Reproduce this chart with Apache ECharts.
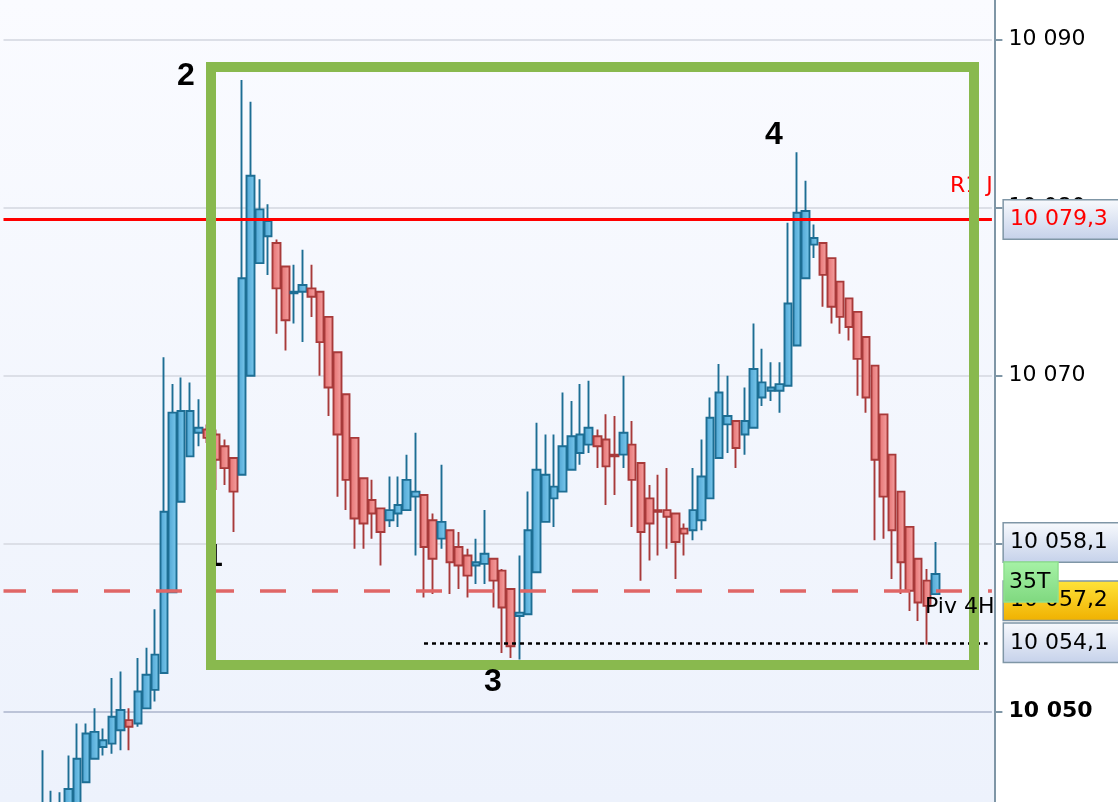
<!DOCTYPE html>
<html>
<head>
<meta charset="utf-8">
<script src="https://cdn.jsdelivr.net/npm/echarts@6/dist/echarts.min.js"></script>
<style>
  html, body { margin: 0; padding: 0; background: #fff; }
  #chart { width: 1118px; height: 802px; }
</style>
</head>
<body>
<div id="chart"></div>
<script>
// candle values, oldest first
var openP = [
  10043.0, 10042.8, 10043.0, 10043.5, 10044.0, 10045.8, 10047.2, 10047.9, 10048.1, 10048.9,
  10049.5, 10049.3, 10050.2, 10051.3, 10052.3, 10057.1, 10062.5, 10065.2, 10066.6, 10066.8,
  10066.5, 10065.8, 10065.1, 10064.1, 10070.0, 10076.7, 10078.3, 10077.9, 10076.5, 10074.9,
  10075.0, 10075.2, 10075.0, 10073.5, 10071.4, 10068.9, 10066.3, 10063.9, 10062.6, 10062.1,
  10061.4, 10061.8, 10062.0, 10062.8, 10062.9, 10061.4, 10060.3, 10060.8, 10059.8, 10059.3,
  10058.7, 10058.8, 10059.1, 10058.4, 10057.3, 10055.7, 10055.8, 10058.3, 10061.3, 10062.7,
  10063.1, 10064.4, 10065.4, 10065.9, 10066.4, 10066.2, 10065.3, 10065.3, 10065.9, 10064.8,
  10062.7, 10062.0, 10062.0, 10061.8, 10060.9, 10060.8, 10061.4, 10062.7, 10065.1, 10067.1,
  10067.3, 10066.5, 10066.9, 10068.7, 10069.1, 10069.1, 10069.4, 10071.8, 10075.8, 10077.8,
  10077.9, 10077.0, 10075.6, 10074.6, 10073.8, 10072.3, 10070.6, 10067.7, 10065.3, 10063.1,
  10061.0, 10059.1, 10057.8, 10057.0
];
var closeP = [
  10044.0, 10044.2, 10044.3, 10045.4, 10047.2, 10048.7, 10048.8, 10048.3, 10049.7, 10050.1,
  10049.1, 10051.2, 10052.2, 10053.4, 10061.9, 10067.8, 10067.9, 10067.9, 10066.9, 10066.3,
  10065.0, 10064.5, 10063.1, 10075.8, 10081.9, 10079.9, 10079.2, 10075.2, 10073.3, 10075.0,
  10075.4, 10074.7, 10072.0, 10069.3, 10066.5, 10063.8, 10061.5, 10061.2, 10061.8, 10060.7,
  10062.0, 10062.3, 10063.8, 10063.1, 10059.8, 10059.1, 10061.3, 10058.9, 10058.7, 10058.1,
  10058.9, 10059.4, 10057.8, 10056.2, 10053.9, 10055.9, 10060.8, 10064.4, 10064.1, 10063.4,
  10065.8, 10066.4, 10066.5, 10066.9, 10065.8, 10064.6, 10065.2, 10066.6, 10063.8, 10060.7,
  10061.2, 10061.9, 10061.6, 10060.1, 10060.6, 10062.0, 10064.0, 10067.5, 10069.0, 10067.6,
  10065.7, 10067.3, 10070.4, 10069.6, 10069.3, 10069.5, 10074.3, 10079.7, 10079.8, 10078.2,
  10076.0, 10074.1, 10073.5, 10072.9, 10071.0, 10068.7, 10065.0, 10062.8, 10060.8, 10058.9,
  10057.2, 10056.5, 10056.3, 10058.2
];
var lowP = [
  10042.5, 10042.0, 10042.5, 10043.0, 10043.8, 10045.8, 10047.2, 10047.4, 10047.5, 10047.7,
  10047.7, 10049.1, 10050.2, 10050.6, 10052.3, 10057.1, 10062.5, 10065.2, 10065.8, 10066.0,
  10063.2, 10063.5, 10060.7, 10064.1, 10070.0, 10076.7, 10076.0, 10072.5, 10071.5, 10073.1,
  10072.0, 10073.5, 10070.0, 10067.6, 10062.8, 10062.0, 10059.7, 10059.7, 10060.3, 10058.7,
  10061.0, 10061.0, 10062.0, 10059.3, 10056.8, 10057.0, 10059.7, 10057.0, 10057.3, 10056.8,
  10057.6, 10057.6, 10056.2, 10053.5, 10053.2, 10053.1, 10055.8, 10058.3, 10061.3, 10061.0,
  10063.1, 10064.4, 10064.7, 10065.4, 10064.5, 10062.3, 10062.9, 10064.5, 10061.0, 10057.8,
  10059.0, 10059.3, 10059.7, 10057.9, 10059.3, 10060.2, 10060.8, 10062.7, 10065.1, 10065.4,
  10064.5, 10065.3, 10066.9, 10068.2, 10068.5, 10067.8, 10069.4, 10071.8, 10075.8, 10077.0,
  10074.1, 10073.1, 10072.5, 10072.1, 10068.8, 10067.8, 10060.2, 10060.3, 10057.9, 10057.0,
  10056.0, 10055.4, 10054.0, 10057.0
];
var highP = [
  10047.7, 10045.3, 10045.2, 10047.4, 10049.3, 10049.3, 10050.2, 10049.0, 10052.0, 10052.4,
  10050.2, 10053.2, 10053.8, 10056.1, 10071.1, 10069.5, 10069.9, 10069.6, 10068.6, 10067.1,
  10066.8, 10066.2, 10065.1, 10087.6, 10086.3, 10081.7, 10080.2, 10078.1, 10076.5, 10076.6,
  10077.5, 10076.6, 10075.0, 10073.5, 10071.4, 10068.9, 10066.3, 10063.9, 10063.8, 10062.1,
  10064.0, 10064.0, 10065.3, 10066.6, 10062.9, 10061.8, 10064.7, 10060.8, 10060.7, 10059.7,
  10060.3, 10062.0, 10059.1, 10058.5, 10057.3, 10059.3, 10063.1, 10067.2, 10066.5, 10066.5,
  10069.0, 10068.5, 10069.5, 10069.7, 10066.8, 10067.7, 10067.6, 10070.0, 10067.3, 10064.8,
  10063.5, 10064.1, 10064.5, 10061.8, 10061.2, 10064.5, 10066.2, 10068.7, 10070.7, 10070.0,
  10067.3, 10069.3, 10073.1, 10071.6, 10070.8, 10070.8, 10079.1, 10083.3, 10081.6, 10079.0,
  10077.9, 10077.0, 10075.6, 10074.6, 10073.8, 10072.3, 10070.6, 10067.7, 10065.3, 10063.1,
  10061.0, 10059.1, 10058.5, 10060.1
];

// price levels drawn as lines
var levelR1 = 10079.3;
var levelPivot = 10057.2;
var levelLast = 10058.1;
var levelLow = 10054.1;
var boldTick = 10050;

var padBefore = 4;   // empty slots left of the first visible candle
var slotCount = 114;
var categories = [];
for (var i = 0; i < slotCount; i++) categories.push('b' + i);

var candles = categories.map(function (c, i) {
  var k = i - padBefore;
  if (k < 0 || k >= openP.length) return '-';
  return [openP[k], closeP[k], lowP[k], highP[k]];
});

var chart = echarts.init(document.getElementById('chart'));

function vgrad(a, b) {
  return { type: 'linear', x: 0, y: 0, x2: 0, y2: 1, colorStops: [{ offset: 0, color: a }, { offset: 1, color: b }] };
}
function hgrad(a, b) {
  return { type: 'linear', x: 0, y: 0, x2: 1, y2: 0, colorStops: [{ offset: 0, color: a }, { offset: 1, color: b }] };
}
var silverBox = vgrad('#f8fafd', '#c5d1ea');
var goldBox = vgrad('#ffe43a', '#f0b000');

function priceBox(text, color, bg, dy) {
  return {
    show: true, position: 'end', distance: 12, formatter: text,
    color: color, fontFamily: 'DejaVu Sans', fontSize: 22,
    backgroundColor: bg, borderColor: '#7f96a6', borderWidth: 1.5,
    padding: [8, 8, 8, 6], width: 125, offset: [0, dy]
  };
}

var font = 'DejaVu Sans';

chart.setOption({
  animation: false,
  grid: { left: 3.5, right: 126.1, top: -128.3, bottom: -77.7, containLabel: false, outerBoundsMode: 'none' },
  xAxis: {
    type: 'category',
    data: categories,
    boundaryGap: true,
    axisLine: { show: false },
    axisTick: { show: false },
    axisLabel: { show: false },
    splitLine: { show: false }
  },
  yAxis: {
    type: 'value',
    position: 'right',
    offset: 2.5,
    min: 10040,
    max: 10100,
    interval: 10,
    axisLine: { show: true, lineStyle: { color: '#7f96a6', width: 2 } },
    axisTick: { show: true, length: 8, lineStyle: { color: '#7f96a6', width: 2 } },
    axisLabel: {
      margin: 14,
      color: '#000',
      fontFamily: font,
      fontSize: 22,
      formatter: function (v) {
        var s = Math.floor(v / 1000) + ' ' + String(v % 1000).padStart(3, '0');
        return v === boldTick ? '{b|' + s + '}' : s;
      },
      rich: { b: { fontWeight: 'bold', fontFamily: font, fontSize: 22, color: '#000' } }
    },
    splitLine: {
      show: true,
      lineStyle: { color: ['#dcdfe7', '#bcc4d8', '#dcdfe7', '#dcdfe7', '#dcdfe7', '#dcdfe7', '#dcdfe7'], width: 2 }
    }
  },
  series: [{
    type: 'candlestick',
    data: candles,
    barWidth: 8,
    itemStyle: {
      color: hgrad('#4ea4d2', '#7ccaee'),
      color0: hgrad('#e46f6f', '#f6a4a4'),
      borderColor: '#1d6e94',
      borderColor0: '#a83a3a',
      borderWidth: 1.9
    },
    markLine: {
      silent: true,
      symbol: ['none', 'none'],
      data: [
        { yAxis: levelR1, lineStyle: { color: '#ff0000', width: 3, type: 'solid' },
          label: priceBox('10 079,3', '#ff0000', silverBox, 0) },
        { yAxis: levelPivot, lineStyle: { color: '#e06666', width: 3.5, type: [26, 26], dashOffset: 3.5 },
          label: priceBox('10 057,2', '#000', goldBox, 10) },
        { yAxis: levelLast, lineStyle: { color: 'rgba(0,0,0,0)', width: 1 },
          label: priceBox('10 058,1', '#000', silverBox, -33) },
        [
          { xAxis: 'b48', yAxis: levelLow, lineStyle: { color: '#000', width: 2.6, type: [4, 4] },
            label: Object.assign(priceBox('10 054,1', '#000', silverBox, 0), { distance: 16.5 }) },
          { xAxis: 'b113', yAxis: levelLow }
        ]
      ]
    }
  }],
  graphic: [
    { type: 'rect', silent: true, z: -10,
      shape: { x: 0, y: 0, width: 994, height: 802 },
      style: { fill: vgrad('#fafbff', '#edf2fc') } },
    { type: 'text', silent: true, z: 90,
      style: { x: 950, y: 186, text: 'R1 J', fill: '#ff0000', font: '22px "DejaVu Sans"', textVerticalAlign: 'middle' } },
    { type: 'text', silent: true, z: 90,
      style: { x: 214, y: 557, text: '1', fill: '#000', font: 'bold 32px "Liberation Sans"', textAlign: 'center', textVerticalAlign: 'middle' } },
    { type: 'rect', silent: true, z: 100,
      shape: { x: 211, y: 67, width: 763, height: 598 },
      style: { fill: 'transparent', stroke: '#89b94e', lineWidth: 10 } },
    { type: 'text', silent: true, z: 110,
      style: { x: 186, y: 76, text: '2', fill: '#000', font: 'bold 32px "Liberation Sans"', textAlign: 'center', textVerticalAlign: 'middle' } },
    { type: 'text', silent: true, z: 110,
      style: { x: 493, y: 682, text: '3', fill: '#000', font: 'bold 32px "Liberation Sans"', textAlign: 'center', textVerticalAlign: 'middle' } },
    { type: 'text', silent: true, z: 110,
      style: { x: 774, y: 135, text: '4', fill: '#000', font: 'bold 32px "Liberation Sans"', textAlign: 'center', textVerticalAlign: 'middle' } },
    { type: 'text', silent: true, z: 110,
      style: { x: 925, y: 607, text: 'Piv 4H', fill: '#000', font: '22px "DejaVu Sans"', textVerticalAlign: 'middle' } },
    { type: 'rect', silent: true, z: 120,
      shape: { x: 1004, y: 562, width: 54, height: 40 },
      style: { fill: vgrad('#a6f2a6', '#7fd87f'), stroke: '#8fe08f', lineWidth: 1.5 } },
    { type: 'text', silent: true, z: 121,
      style: { x: 1009, y: 582, text: '35T', fill: '#000', font: '22px "DejaVu Sans"', textVerticalAlign: 'middle' } }
  ]
});
</script>
</body>
</html>
